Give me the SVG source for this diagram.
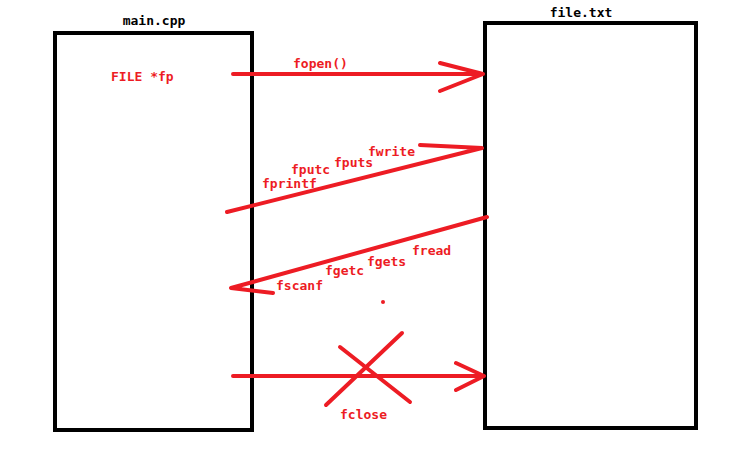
<svg xmlns="http://www.w3.org/2000/svg" width="735" height="451" viewBox="0 0 735 451">
<style>
.box{fill:none;stroke:#000;stroke-width:4}
.ttl{font-family:"DejaVu Sans Mono","Liberation Mono",monospace;font-size:13px;font-weight:bold;fill:#000}
.lbl{font-family:"DejaVu Sans Mono","Liberation Mono",monospace;font-size:13px;font-weight:bold;fill:#ed1c24}
.ln{fill:none;stroke:#ed1c24;stroke-width:4;stroke-linecap:round;stroke-linejoin:round}
</style>
<rect width="735" height="451" fill="#fff"/>
<g id="main_cpp">
<rect class="box" x="55" y="33" width="197" height="397"/>
<text class="ttl" x="154" y="25" text-anchor="middle">main.cpp</text>
<text class="lbl" x="111" y="81">FILE *fp</text>
</g>
<g id="file_txt">
<rect class="box" x="485" y="23" width="211" height="405"/>
<text class="ttl" x="581" y="17" text-anchor="middle">file.txt</text>
</g>
<g id="connectors">
<g id="fopen">
<path class="ln" d="M233,74 L483,74 M440,63 L483,74 L440,91"/>
<text class="lbl" x="293" y="68">fopen()</text>
</g>
<g id="write">
<path class="ln" d="M227,212 L482,148 L420,145"/>
<text class="lbl" x="368" y="156">fwrite</text>
<text class="lbl" x="334" y="167">fputs</text>
<text class="lbl" x="291" y="174">fputc</text>
<text class="lbl" x="262" y="188">fprintf</text>
</g>
<g id="read">
<path class="ln" d="M487,217 L231,288 L273,293"/>
<text class="lbl" x="412" y="255">fread</text>
<text class="lbl" x="367" y="266">fgets</text>
<text class="lbl" x="325" y="275">fgetc</text>
<text class="lbl" x="276" y="290">fscanf</text>
</g>
<circle cx="383" cy="302" r="2" fill="#ed1c24"/>
<g id="fclose">
<path class="ln" d="M233,376 L484,376 M456,363 L484,376 L456,390"/>
<path class="ln" d="M340,347 L410,402 M402,333 L326,405"/>
<text class="lbl" x="340" y="419">fclose</text>
</g>
</g>
</svg>
